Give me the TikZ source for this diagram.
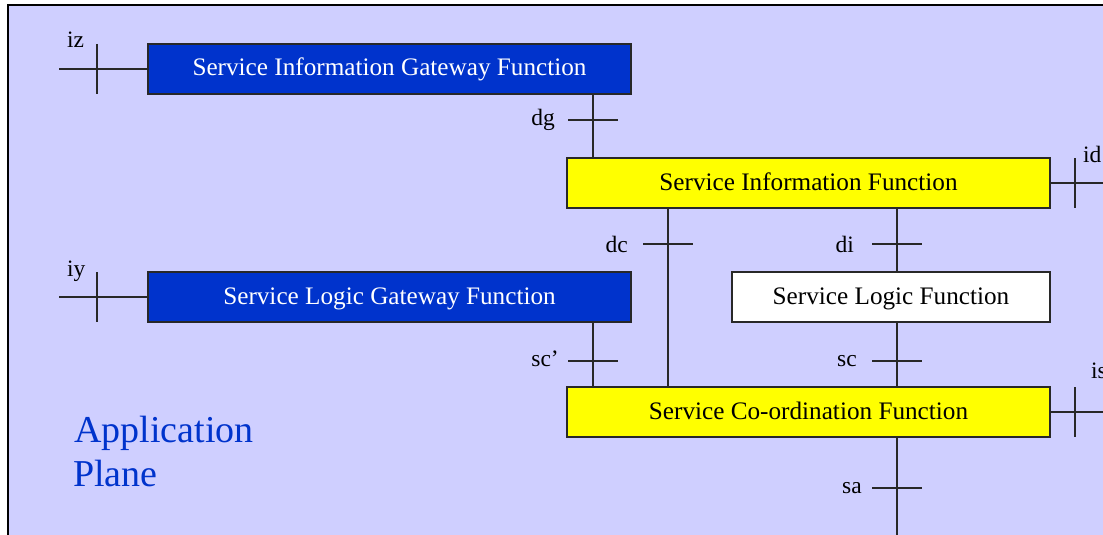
\documentclass[tikz,border=0pt]{standalone}
\usepackage{fontspec}
\setmainfont{Liberation Serif}
\definecolor{lav}{RGB}{207,207,255}
\definecolor{fblue}{RGB}{0,51,204}
\definecolor{fyel}{RGB}{255,255,0}
\definecolor{lin}{RGB}{40,40,40}
\begin{document}
\begin{tikzpicture}[x=1pt,y=-1pt,
  fbox/.style={draw=lin, line width=1.3pt, inner sep=0pt, outer sep=0pt, anchor=north west,
    minimum height=50pt, text height=18pt, text depth=4pt,
    font=\fontsize{25.2}{30}\selectfont},
  bluebox/.style={fbox, fill=fblue, text=white},
  yelbox/.style={fbox, fill=fyel, text=black},
  whitebox/.style={fbox, fill=white, text=black},
  conn/.style={draw=lin, line width=1.3pt},
  lbl/.style={font=\fontsize{23.5}{26}\selectfont, inner sep=0pt},
  plane/.style={font=\fontsize{38}{44}\selectfont, text=fblue, inner sep=0pt, anchor=base west}]
\useasboundingbox (0,0) rectangle (1103,535);
\clip (0,0) rectangle (1103,535);
\fill[white] (0,0) rectangle (1103,535);
\draw[fill=lav, line width=2pt] (8,5) rectangle (1200,600);

% boxes
\node[bluebox, minimum width=483pt] (sigf) at (148,44) {Service Information Gateway Function};
\node[yelbox, minimum width=483pt] (sif) at (567,158) {Service Information Function};
\node[bluebox, minimum width=483pt] (slgf) at (148,272) {Service Logic Gateway Function};
\node[whitebox, minimum width=318pt] (slf) at (732,272) {Service Logic Function};
\node[yelbox, minimum width=483pt] (scf) at (567,387) {Service Co-ordination Function};

% column coordinates and free ends
\coordinate (cdg) at (593,0);
\coordinate (cdc) at (668,0);
\coordinate (cdi) at (897,0);
\coordinate (lx) at (59,0);
\coordinate (rx) at (1130,0);
\coordinate (saend) at (897,560);

% connectors
\draw[conn] (sigf.west -| lx) -- (sigf.west);
\draw[conn] (slgf.west -| lx) -- (slgf.west);
\draw[conn] (sif.east) -- (sif.east -| rx);
\draw[conn] (scf.east) -- (scf.east -| rx);
\draw[conn] (sigf.south -| cdg) -- (sif.north -| cdg);
\draw[conn] (sif.south -| cdc) -- (scf.north -| cdc);
\draw[conn] (sif.south -| cdi) -- (slf.north -| cdi);
\draw[conn] (slgf.south -| cdg) -- (scf.north -| cdg);
\draw[conn] (slf.south -| cdi) -- (scf.north -| cdi);
\draw[conn] (scf.south -| cdi) -- (saend);

% ticks
\coordinate (tiz) at (97,69);
\coordinate (tiy) at (97,297);
\coordinate (tid) at (1075,183);
\coordinate (tis) at (1075,412);
\coordinate (tdg) at (593,120);
\coordinate (tdc) at (668,244);
\coordinate (tdi) at (897,244);
\coordinate (tscp) at (593,361);
\coordinate (tsc) at (897,361);
\coordinate (tsa) at (897,488);
\foreach \t in {tiz,tiy,tid,tis}
  \draw[conn] ([yshift=25pt]\t) -- ([yshift=-25pt]\t);
\foreach \t in {tdg,tdc,tdi,tscp,tsc,tsa}
  \draw[conn] ([xshift=-25pt]\t) -- ([xshift=25pt]\t);

% labels
\node[lbl, anchor=base west] (liz) at (67,48) {iz};
\node[lbl, anchor=base west] (liy) at (67,276) {iy};
\node[lbl, anchor=base west] (lid) at (1083,162) {id};
\node[lbl, anchor=base west] (lis) at (1091,378) {is};
\node[lbl, anchor=base east] (ldg) at (555,125) {dg};
\node[lbl, anchor=base east] (ldc) at (628,252) {dc};
\node[lbl, anchor=base east] (ldi) at (854,252) {di};
\node[lbl, anchor=base east] (lscp) at (559,366) {sc’};
\node[lbl, anchor=base east] (lsc) at (857,366) {sc};
\node[lbl, anchor=base east] (lsa) at (862,493) {sa};

% plane title
\node[plane] (app1) at (74,442) {Application};
\node[plane] (app2) at (73,486) {Plane};
\end{tikzpicture}
\end{document}
